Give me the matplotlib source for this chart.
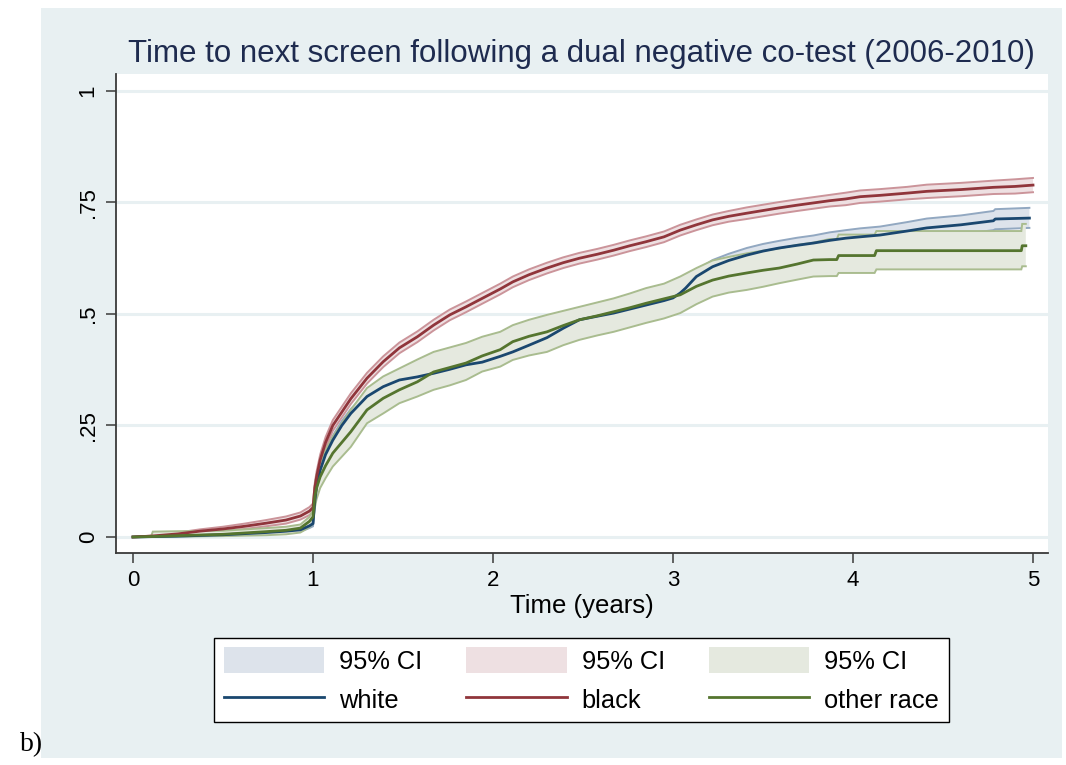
import matplotlib
matplotlib.use("Agg")
import matplotlib.pyplot as plt
from matplotlib.patches import Rectangle, Patch
from matplotlib.lines import Line2D

plt.rcParams['font.family'] = ['Liberation Sans', 'DejaVu Sans']

# Cumulative probability of next screen, by race (estimate with 95% CI bounds)
t_black = [0, 0.1, 0.25, 0.37, 0.5, 0.62, 0.74, 0.85, 0.93, 0.98, 1.0, 1.01, 1.02, 1.04, 1.07,
           1.11, 1.21, 1.30, 1.39, 1.48, 1.58, 1.67, 1.76, 1.85, 1.94, 2.04, 2.11, 2.20, 2.30,
           2.39, 2.48, 2.58, 2.67, 2.76, 2.85, 2.95, 3.04, 3.13, 3.22, 3.31, 3.41, 3.50, 3.59,
           3.69, 3.78, 3.87, 3.96, 4.04, 4.15, 4.30, 4.41, 4.60, 4.78, 4.90, 5.0]
est_black = [0, 0.002, 0.007, 0.013, 0.018, 0.024, 0.031, 0.038, 0.047, 0.058, 0.066, 0.11, 0.135,
             0.173, 0.212, 0.25, 0.31, 0.356, 0.393, 0.424, 0.449, 0.475, 0.498, 0.516, 0.535,
             0.556, 0.572, 0.588, 0.603, 0.615, 0.625, 0.634, 0.643, 0.653, 0.662, 0.673, 0.688,
             0.700, 0.711, 0.719, 0.726, 0.732, 0.738, 0.744, 0.749, 0.754, 0.758, 0.763, 0.766,
             0.771, 0.775, 0.779, 0.784, 0.786, 0.789]
lo_black = [0, 0.001, 0.004, 0.009, 0.013, 0.018, 0.024, 0.030, 0.039, 0.049, 0.057, 0.099, 0.123,
            0.161, 0.200, 0.238, 0.298, 0.344, 0.381, 0.412, 0.437, 0.463, 0.486, 0.504, 0.523,
            0.544, 0.560, 0.576, 0.591, 0.603, 0.613, 0.622, 0.631, 0.641, 0.650, 0.661, 0.676,
            0.688, 0.699, 0.707, 0.713, 0.719, 0.725, 0.731, 0.736, 0.741, 0.744, 0.749, 0.752,
            0.757, 0.760, 0.764, 0.769, 0.770, 0.773]
hi_black = [0, 0.003, 0.010, 0.017, 0.023, 0.030, 0.038, 0.046, 0.055, 0.067, 0.075, 0.121, 0.147,
            0.185, 0.224, 0.262, 0.322, 0.368, 0.405, 0.436, 0.461, 0.487, 0.510, 0.528, 0.547,
            0.568, 0.584, 0.600, 0.615, 0.627, 0.637, 0.646, 0.655, 0.665, 0.674, 0.685, 0.700,
            0.712, 0.723, 0.731, 0.739, 0.745, 0.751, 0.757, 0.762, 0.767, 0.772, 0.777, 0.780,
            0.785, 0.790, 0.794, 0.799, 0.802, 0.805]

t_white = [0, 0.25, 0.5, 0.74, 0.85, 0.93, 0.98, 1.0, 1.01, 1.02, 1.04, 1.07, 1.11, 1.16, 1.21,
           1.30, 1.39, 1.48, 1.58, 1.67, 1.76, 1.85, 1.94, 2.04, 2.11, 2.20, 2.30, 2.39, 2.48,
           2.58, 2.67, 2.76, 2.85, 2.95, 3.0, 3.04, 3.07, 3.13, 3.22, 3.31, 3.41, 3.50, 3.59,
           3.69, 3.78, 3.87, 3.96, 4.04, 4.15, 4.30, 4.41, 4.60, 4.78, 4.79, 4.98]
est_white = [0, 0.002, 0.005, 0.010, 0.013, 0.016, 0.025, 0.030, 0.080, 0.113, 0.150, 0.185, 0.217,
             0.250, 0.277, 0.315, 0.337, 0.352, 0.359, 0.367, 0.376, 0.386, 0.392, 0.405, 0.415,
             0.430, 0.447, 0.468, 0.487, 0.495, 0.502, 0.511, 0.520, 0.530, 0.536, 0.547, 0.558,
             0.584, 0.606, 0.620, 0.632, 0.641, 0.648, 0.654, 0.659, 0.665, 0.670, 0.673, 0.677,
             0.686, 0.693, 0.700, 0.709, 0.713, 0.715]
lo_white = [0, 0.001, 0.003, 0.007, 0.009, 0.012, 0.020, 0.024, 0.072, 0.105, 0.141, 0.176, 0.207,
            0.240, 0.267, 0.305, 0.326, 0.341, 0.348, 0.356, 0.364, 0.374, 0.380, 0.393, 0.403,
            0.418, 0.435, 0.456, 0.475, 0.483, 0.490, 0.498, 0.507, 0.517, 0.523, 0.533, 0.544,
            0.570, 0.591, 0.605, 0.616, 0.625, 0.632, 0.637, 0.642, 0.647, 0.652, 0.654, 0.658,
            0.666, 0.672, 0.679, 0.688, 0.690, 0.693]
hi_white = [0, 0.003, 0.007, 0.013, 0.017, 0.020, 0.030, 0.036, 0.088, 0.121, 0.159, 0.194, 0.227,
            0.260, 0.287, 0.325, 0.348, 0.363, 0.370, 0.378, 0.388, 0.398, 0.404, 0.417, 0.427,
            0.442, 0.459, 0.480, 0.499, 0.507, 0.514, 0.524, 0.533, 0.543, 0.549, 0.561, 0.572,
            0.598, 0.621, 0.635, 0.648, 0.657, 0.664, 0.671, 0.676, 0.683, 0.688, 0.692, 0.696,
            0.706, 0.714, 0.721, 0.731, 0.735, 0.738]

t_other = [0, 0.10, 0.11, 0.25, 0.5, 0.74, 0.85, 0.93, 0.98, 1.0, 1.01, 1.02, 1.04, 1.07, 1.11,
           1.16, 1.21, 1.30, 1.39, 1.48, 1.58, 1.67, 1.76, 1.85, 1.94, 2.04, 2.11, 2.20, 2.30,
           2.39, 2.48, 2.58, 2.67, 2.76, 2.85, 2.95, 3.04, 3.13, 3.22, 3.31, 3.41, 3.50, 3.59,
           3.69, 3.78, 3.87, 3.91, 3.92, 4.12, 4.13, 4.935, 4.94, 4.96]
est_other = [0, 0.001, 0.001, 0.003, 0.006, 0.012, 0.015, 0.020, 0.035, 0.045, 0.090, 0.110, 0.135,
             0.160, 0.188, 0.212, 0.236, 0.285, 0.311, 0.330, 0.348, 0.370, 0.380, 0.390, 0.406,
             0.420, 0.438, 0.450, 0.460, 0.474, 0.487, 0.496, 0.505, 0.514, 0.524, 0.534, 0.543,
             0.562, 0.576, 0.585, 0.592, 0.598, 0.603, 0.612, 0.621, 0.622, 0.622, 0.631, 0.631,
             0.642, 0.642, 0.653, 0.653]
lo_other = [0, 0, 0, 0.001, 0.002, 0.004, 0.006, 0.010, 0.022, 0.030, 0.065, 0.085, 0.110, 0.132,
            0.158, 0.180, 0.202, 0.255, 0.277, 0.300, 0.315, 0.330, 0.340, 0.352, 0.371, 0.382,
            0.397, 0.407, 0.415, 0.430, 0.442, 0.452, 0.460, 0.470, 0.480, 0.490, 0.502, 0.522,
            0.539, 0.548, 0.554, 0.561, 0.569, 0.577, 0.584, 0.585, 0.585, 0.592, 0.592, 0.600,
            0.600, 0.607, 0.607]
hi_other = [0, 0.001, 0.012, 0.013, 0.014, 0.020, 0.023, 0.028, 0.045, 0.060, 0.115, 0.140, 0.165,
            0.195, 0.225, 0.255, 0.285, 0.334, 0.360, 0.378, 0.398, 0.415, 0.425, 0.435, 0.449,
            0.460, 0.475, 0.487, 0.498, 0.507, 0.516, 0.526, 0.535, 0.546, 0.558, 0.568, 0.584,
            0.603, 0.620, 0.628, 0.636, 0.642, 0.647, 0.655, 0.660, 0.668, 0.668, 0.678, 0.678,
            0.686, 0.686, 0.702, 0.702]

x_ticks = [0, 1, 2, 3, 4, 5]
y_ticks = [0, 0.25, 0.5, 0.75, 1]
y_tick_labels = ["0", ".25", ".5", ".75", "1"]

groups = [
    # label, times, estimate, lower, upper, line colour, band fill, band edge
    ("white", t_white, est_white, lo_white, hi_white, "#1a476f", "#dde3eb", "#92a8c1"),
    ("black", t_black, est_black, lo_black, hi_black, "#90353b", "#eee0e2", "#cb949a"),
    ("other race", t_other, est_other, lo_other, hi_other, "#55752f", "#e5e9df", "#a9bc8f"),
]

BG = "#e8f0f2"

fig = plt.figure(figsize=(10.66, 7.65), dpi=100)
fig.patches.append(Rectangle((41 / 1066, 1 - 758 / 765), (1062 - 41) / 1066, (758 - 8) / 765,
                             transform=fig.transFigure, facecolor=BG, edgecolor="none", zorder=-5))

ax = fig.add_axes([116 / 1066, 1 - 553 / 765, (1048 - 116) / 1066, (553 - 74) / 765])
ax.set_zorder(2)
ax.set_facecolor("white")
ax.set_xlim(-0.0944, 5.0833)
ax.set_ylim(-0.0359, 1.0381)

for yv in y_ticks:
    ax.axhline(yv, color=BG, lw=2.2, zorder=0.5)

# each confidence band (fill + bounds) stacks over the previous one; estimates go on top
for i, (label, t, est, lo, hi, lc, fc, ec) in enumerate(groups):
    z = 1 + 0.1 * i
    ax.fill_between(t, lo, hi, facecolor=fc, edgecolor="none", zorder=z)
    ax.plot(t, lo, color=ec, lw=1.4, zorder=z + 0.05, solid_joinstyle="miter")
    ax.plot(t, hi, color=ec, lw=1.4, zorder=z + 0.05, solid_joinstyle="miter")
for label, t, est, lo, hi, lc, fc, ec in groups:
    ax.plot(t, est, color=lc, lw=2.0, zorder=2)

for side in ("top", "right"):
    ax.spines[side].set_visible(False)
for side in ("left", "bottom"):
    ax.spines[side].set_color("#3a3a3a")
    ax.spines[side].set_linewidth(1.3)

ax.set_xticks(x_ticks)
ax.set_xticklabels([str(v) for v in x_ticks])
ax.set_yticks(y_ticks)
ax.set_yticklabels(y_tick_labels, rotation=90, va="center")
ax.tick_params(axis="both", direction="out", length=7.5, width=1.1, color="#3a3a3a",
               labelsize=16, labelcolor="black", pad=5)

ax.set_xlabel("Time (years)", fontsize=18.5, labelpad=2)
fig.text(581 / 1066, 1 - 54 / 765, "Time to next screen following a dual negative co-test (2006-2010)",
         ha="center", va="center", fontsize=22.5, color="#1e2b4f")

handles = []
labels = []
for label, t, est, lo, hi, lc, fc, ec in groups:
    handles.append(Patch(facecolor=fc, edgecolor="none"))
    labels.append("95% CI")
    handles.append(Line2D([], [], color=lc, lw=2.0))
    labels.append(label)

leg = fig.legend(handles, labels, ncol=3, loc="center",
                 bbox_to_anchor=(581.5 / 1066, 1 - 680 / 765),
                 fontsize=18.3, frameon=True, fancybox=False, edgecolor="black",
                 framealpha=1.0, handlelength=3.94, handleheight=1.15, handletextpad=0.6,
                 columnspacing=1.73, labelspacing=0.5, borderpad=0.38)
leg.get_frame().set_linewidth(1.0)
leg.get_frame().set_facecolor("white")
leg.set_zorder(3)

fig.text(20 / 1066, 1 - 745 / 765, "b)", family=["Liberation Serif", "DejaVu Serif"],
         fontsize=20, ha="left", va="center")

fig.savefig("out.png", dpi=100, facecolor="white")
